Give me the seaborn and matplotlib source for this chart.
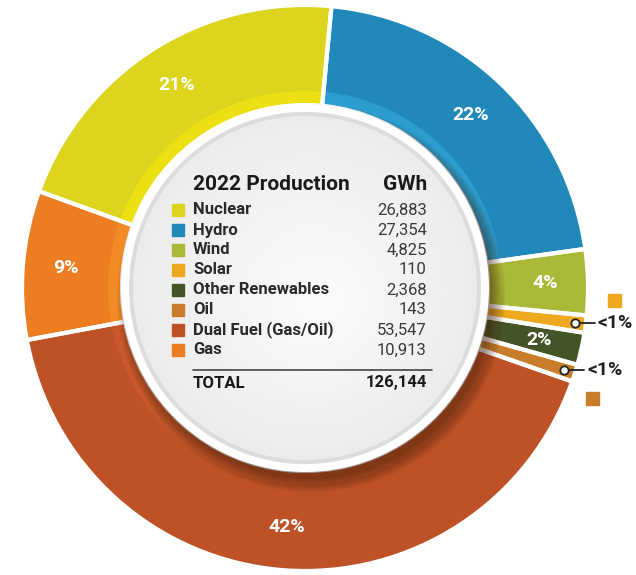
import matplotlib
matplotlib.use("Agg")
import matplotlib.pyplot as plt
from matplotlib.patches import Circle, Rectangle
import numpy as np
import seaborn as sns

# --- Data (2022 production, GWh) ---
categories = ["Nuclear", "Hydro", "Wind", "Solar", "Other Renewables", "Oil",
              "Dual Fuel (Gas/Oil)", "Gas"]
gwh = [26883, 27354, 4825, 110, 2368, 143, 53547, 10913]
total_gwh = 126144  # as reported (source rounding)
colors = ["#DDD41E", "#2189BA", "#A9B836", "#EDA820", "#445426", "#C97D2A",
          "#BE5126", "#EC7D22"]
inner_colors = ["#ECE012", "#2C9DCF", "#B4C23A", "#F2B22A", "#4C5E2A", "#D38A30",
                "#C9592A", "#F28A26"]
total_label = "TOTAL"

sns.set_theme(style="white")
plt.rcParams["font.family"] = ["Roboto", "DejaVu Sans"]

W, H = 636, 575
fig = plt.figure(figsize=(W / 100, H / 100), dpi=100)
ax = fig.add_axes([0, 0, 1, 1])

cx, cy, R = 305, H - 288, 283
shares = [v / total_gwh for v in gwh]
# tiny slices get a minimum visible width, like the original graphic
display = [max(s, 0.01) for s in shares]
pie_kw = dict(startangle=160, counterclock=False, center=(cx, cy), frame=True)

wedges, _ = ax.pie(display, colors=colors, radius=R,
                   wedgeprops=dict(width=R - 183, linewidth=0), **pie_kw)
ax.pie(display, colors=inner_colors, radius=197,
       wedgeprops=dict(width=14, linewidth=0), **pie_kw)
# white separators between slices
ax.pie(display, colors=["none"] * len(display), radius=R,
       wedgeprops=dict(width=R - 183, edgecolor="white", linewidth=3), **pie_kw)
ax.set_xlim(0, W)
ax.set_ylim(0, H)
ax.set_aspect("equal")
ax.axis("off")

# soft shadow of the centre disc
for k in range(9):
    ax.add_patch(Circle((cx + 6, cy - 10), 194 - k * 1.6, color="#3a1a08",
                        alpha=0.07, zorder=3, lw=0))
ax.add_patch(Circle((cx, cy), 184, color="white", zorder=4, lw=0))
ax.add_patch(Circle((cx, cy), 176, color="#dadcde", zorder=4, lw=0))
for k in range(20):
    r = 172 - k * 8
    shade = 0.925 + 0.055 * k / 19
    ax.add_patch(Circle((cx + k * 0.8, cy - k * 0.8), r,
                        color=(shade, shade, shade + 0.004), zorder=4, lw=0))

# percent labels on the ring
n_small = 0
for w, s, c in zip(wedges, shares, colors):
    mid = np.deg2rad((w.theta1 + w.theta2) / 2)
    if s >= 0.01:
        x = cx + 240 * np.cos(mid)
        y = cy + 240 * np.sin(mid)
        ax.text(x, y, f"{s * 100:.0f}%", color="white", fontsize=14,
                fontweight="bold", ha="center", va="center", zorder=6)
    else:
        x = cx + 272 * np.cos(mid)
        y = cy + 272 * np.sin(mid)
        ax.plot([x, x + 20], [y, y], color="#222222", lw=1.3, zorder=6)
        ax.plot(x, y, "o", ms=6, mfc="white", mec="#222222", mew=1.3, zorder=7)
        ax.text(x + 23, y, "<1%", color="#222222", fontsize=14,
                fontweight="bold", ha="left", va="center", zorder=6)
        # colour key square: above the first small slice, below the second
        dx, dy = (39, 22) if n_small == 0 else (28, -29)
        ax.add_patch(Rectangle((x + dx - 6, y + dy - 6), 13, 13, color=c, zorder=6))
        n_small += 1

# centre table
tx0, tx1 = 193, 427
ty = H - 185
ax.text(tx0, ty, "2022 Production", fontsize=15, fontweight="bold",
        color="#1a1a1a", ha="left", va="center", zorder=6)
ax.text(tx1, ty, "GWh", fontsize=15, fontweight="bold", color="#1a1a1a",
        ha="right", va="center", zorder=6)
for i, (name, v, c) in enumerate(zip(categories, gwh, colors)):
    y = H - 210 - i * 20
    ax.add_patch(Rectangle((172, y - 6), 12, 12, color=c, zorder=6))
    ax.text(tx0, y, name, fontsize=12, fontweight="bold", color="#2a2a2a",
            ha="left", va="center", zorder=6)
    ax.text(tx1, y, f"{v:,}", fontsize=12, color="#3a3a3a",
            ha="right", va="center", zorder=6)
ax.plot([tx0, 432], [H - 370, H - 370], color="#444444", lw=1.2, zorder=6)
ax.text(tx0, H - 383, total_label, fontsize=12, fontweight="bold",
        color="#1a1a1a", ha="left", va="center", zorder=6)
ax.text(tx1, H - 383, f"{total_gwh:,}", fontsize=12, fontweight="bold",
        color="#1a1a1a", ha="right", va="center", zorder=6)

fig.savefig("out.png", dpi=100, facecolor="white")
